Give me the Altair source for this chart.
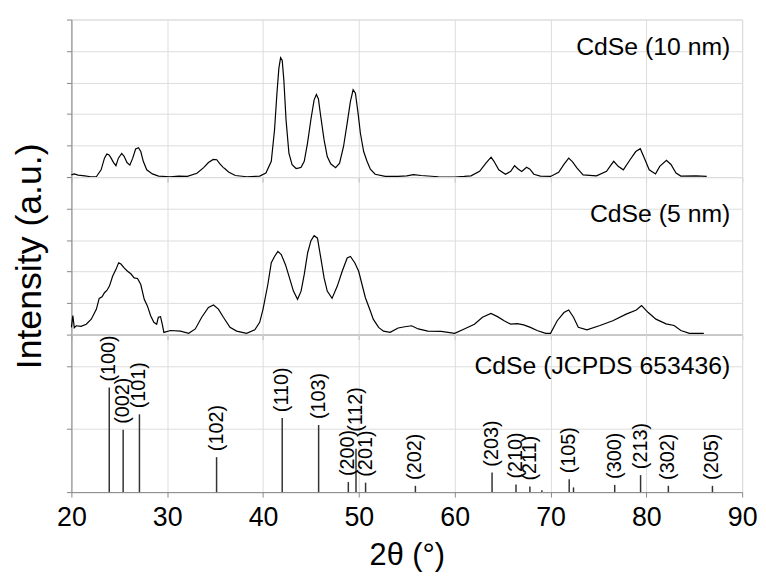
import altair as alt
import pandas as pd

# ---- CdSe (10 nm) pattern (2theta, intensity in panel units) ----
x10 = [20.0, 20.3, 20.7, 21.4, 22.0, 22.6, 23.1, 23.45, 23.7, 23.9, 24.07, 24.4, 24.65, 24.9,
       25.25, 25.5, 25.8, 26.1, 26.4, 26.7, 27.0, 27.24, 27.5, 27.86, 28.45, 29.1, 30.3, 31.2,
       32.1, 33.1, 33.8, 34.3, 34.8, 35.17, 35.5, 35.86, 36.0, 36.4, 37.1, 38.3, 39.65, 40.3,
       40.86, 41.2, 41.45, 41.65, 41.83, 42.0, 42.17, 42.4, 42.7, 43.03, 43.45, 43.78, 43.97,
       44.3, 44.64, 44.99, 45.33, 45.57, 45.78, 46.0, 46.37, 46.7, 47.06, 47.57, 47.99, 48.4,
       48.78, 49.12, 49.4, 49.64, 49.92, 50.16, 50.5, 50.85, 51.2, 51.7, 52.75, 54.1, 55.0,
       55.7, 56.5, 58.3, 60.0, 61.0, 61.7, 62.6, 63.26, 63.8, 64.1, 64.6, 65.3, 65.85, 66.25,
       66.65, 67.0, 67.5, 67.85, 68.26, 68.95, 70.0, 70.85, 71.4, 71.9, 72.3, 72.75, 73.4,
       74.8, 75.85, 76.3, 76.6, 77.06, 77.6, 78.3, 78.9, 79.37, 79.8, 80.3, 80.96, 81.4, 82.1,
       82.57, 83.1, 83.6, 85.2, 86.3]
y10 = [0.07, 0.10, 0.06, 0.04, 0.01, 0.01, 0.23, 0.60, 0.73, 0.71, 0.64, 0.46, 0.36, 0.60,
       0.75, 0.66, 0.46, 0.38, 0.60, 0.89, 0.93, 0.81, 0.50, 0.23, 0.10, 0.03, 0.01, 0.03,
       0.02, 0.12, 0.30, 0.46, 0.56, 0.55, 0.42, 0.30, 0.27, 0.16, 0.05, 0.01, 0.03, 0.13,
       0.50, 1.50, 2.66, 3.45, 3.79, 3.70, 3.08, 1.81, 0.76, 0.39, 0.27, 0.29, 0.31,
       0.50, 1.08, 1.82, 2.45, 2.62, 2.48, 1.97, 1.18, 0.65, 0.42, 0.30, 0.44, 0.97,
       1.71, 2.40, 2.77, 2.66, 2.02, 1.39, 0.81, 0.50, 0.25, 0.09, 0.02, 0.02, 0.04,
       0.08, 0.05, 0.01, 0.00, 0.02, 0.04, 0.18, 0.44, 0.63, 0.50, 0.23, 0.09, 0.18, 0.36,
       0.25, 0.18, 0.31, 0.25, 0.09, 0.03, 0.02, 0.15, 0.40, 0.60, 0.48, 0.29, 0.07,
       0.04, 0.18, 0.38, 0.50, 0.34, 0.23, 0.55, 0.81, 0.90, 0.60, 0.23, 0.10, 0.34, 0.53,
       0.40, 0.13, 0.03, 0.04, 0.02]

# ---- CdSe (5 nm) pattern ----
x5 = [20.0, 20.15, 20.3, 20.5, 21.0, 21.55, 22.07, 22.6, 22.9, 23.2, 23.45, 23.7, 23.97, 24.3,
      24.65, 24.93, 25.17, 25.5, 25.86, 26.2, 26.55, 26.9, 27.24, 27.6, 27.93, 28.27, 28.6,
      28.9, 29.07, 29.3, 29.48, 29.65, 30.34, 31.38, 32.24, 32.93, 33.6, 34.3, 34.83, 35.34,
      35.86, 36.55, 37.24, 38.28, 39.14, 39.65, 40.0, 40.5, 40.86, 41.2, 41.55, 41.9, 42.34,
      42.76, 43.17, 43.6, 43.97, 44.3, 44.65, 45.0, 45.33, 45.68, 46.0, 46.37, 46.7, 47.2,
      47.75, 48.26, 48.78, 49.12, 49.57, 49.98, 50.33, 50.68, 51.2, 51.5, 52.06, 52.57, 53.26,
      54.1, 54.8, 55.5, 56.2, 57.2, 58.6, 60.0, 61.0, 62.06, 62.9, 63.78, 64.47, 65.16, 65.85,
      66.54, 67.2, 67.9, 68.6, 69.5, 70.0, 70.7, 71.4, 71.9, 72.4, 72.9, 73.8, 75.16, 76.5,
      77.9, 78.96, 79.5, 80.2, 81.0, 82.06, 82.9, 83.6, 84.5, 86.0]
y5 = [0.23, 0.60, 0.22, 0.28, 0.26, 0.33, 0.49, 0.80, 1.15, 1.20, 1.33, 1.40, 1.54, 1.85,
      2.07, 2.28, 2.24, 2.12, 2.01, 1.93, 1.80, 1.78, 1.59, 1.12, 0.91, 0.60, 0.39,
      0.33, 0.55, 0.57, 0.33, 0.07, 0.13, 0.11, 0.04, 0.18, 0.55, 0.86, 0.94, 0.81,
      0.55, 0.23, 0.11, 0.04, 0.15, 0.39, 0.81, 1.59, 2.28, 2.48, 2.64, 2.54, 2.22,
      1.80, 1.38, 1.12, 1.38, 1.91, 2.59, 2.98, 3.14, 3.06, 2.48, 1.80, 1.38, 1.15,
      1.54, 2.01, 2.43, 2.48, 2.28, 2.01, 1.59, 1.17, 0.75, 0.49, 0.23, 0.11, 0.07,
      0.21, 0.25, 0.28, 0.18, 0.11, 0.10, 0.04, 0.18, 0.33, 0.55, 0.67, 0.57, 0.44, 0.33,
      0.35, 0.31, 0.23, 0.13, 0.04, 0.04, 0.44, 0.70, 0.78, 0.55, 0.23, 0.15, 0.29, 0.44,
      0.65, 0.78, 0.92, 0.70, 0.49, 0.34, 0.29, 0.13, 0.04, 0.04]

# ---- JCPDS 653436 reference lines ----
ref_pos = [23.95, 25.4, 27.1, 35.15, 42.0, 45.8, 48.9, 49.7, 50.7, 55.9, 63.9, 66.4, 67.85,
           69.1, 71.95, 72.4, 76.7, 79.4, 82.3, 86.9]
ref_int = [3.32, 1.98, 2.47, 1.11, 2.35, 2.13, 0.32, 1.38, 0.30, 0.20, 0.62, 0.24, 0.18,
           0.06, 0.41, 0.15, 0.23, 0.54, 0.20, 0.20]
ref_hkl = ["(100)", "(002)", "(101)", "(102)", "(110)", "(103)", "(200)", "(112)", "(201)",
           "(202)", "(203)", "(210)", "(211)", "", "(105)", "", "(300)", "(213)", "(302)",
           "(205)"]

panel_labels = ["CdSe (10 nm)", "CdSe (5 nm)", "CdSe (JCPDS 653436)"]
x_ticks = [20, 30, 40, 50, 60, 70, 80, 90]
y_ticks = [0, 1, 2, 3, 4, 5]

FONT = "Liberation Sans"
W, H = 677, 159

xscale = alt.Scale(domain=[20, 90], nice=False, zero=False)
yscale = alt.Scale(domain=[0, 5], nice=False, zero=True)


def x_axis(show):
    if show:
        return alt.Axis(values=x_ticks, labelFontSize=27, labelPadding=8, title="2θ (°)",
                        titleFontSize=31, titleFontWeight="normal", titleBaseline="alphabetic",
                        titleY=73, labelFlush=False)
    return alt.Axis(values=x_ticks, labels=False, title=None)


def y_axis(show_title):
    if show_title:
        return alt.Axis(values=y_ticks, labels=False, title="Intensity (a.u.)",
                        titleFontSize=36, titleFontWeight="normal",
                        titleBaseline="alphabetic", titleX=-31)
    return alt.Axis(values=y_ticks, labels=False, title=None)


def label_layer(text, ypix):
    return alt.Chart(pd.DataFrame({"t": [text]})).mark_text(
        align="right", baseline="middle", fontSize=25, font=FONT, color="black"
    ).encode(text="t:N", x=alt.value(W - 12), y=alt.value(ypix))


def pattern_panel(xs, ys, text, ypix, show_ytitle):
    df = pd.DataFrame({"x": xs, "y": ys})
    line = alt.Chart(df).mark_line(color="black", strokeWidth=1.2).encode(
        x=alt.X("x:Q", scale=xscale, axis=x_axis(False)),
        y=alt.Y("y:Q", scale=yscale, axis=y_axis(show_ytitle)),
    )
    return alt.layer(line, label_layer(text, ypix)).properties(width=W, height=H)


top = pattern_panel(x10, y10, panel_labels[0], 28, False)
mid = pattern_panel(x5, y5, panel_labels[1], 37, True)

ref_df = pd.DataFrame({"x": ref_pos, "h": ref_int, "hkl": ref_hkl})
ref_df["zero"] = 0.0
sticks = alt.Chart(ref_df).mark_rule(color="#333333", strokeWidth=1.5).encode(
    x=alt.X("x:Q", scale=xscale, axis=x_axis(True)),
    y=alt.Y("h:Q", scale=yscale, axis=y_axis(False)),
    y2="zero:Q",
)


def hkl_layer(flt, dx):
    return alt.Chart(ref_df).transform_filter(flt).mark_text(
        angle=270, align="left", baseline="middle", dx=dx, fontSize=20, font=FONT,
        color="black"
    ).encode(x=alt.X("x:Q", scale=xscale), y=alt.Y("h:Q", scale=yscale), text="hkl:N")


hkl_main = hkl_layer("datum.hkl != '(112)'", 6)
hkl_112 = hkl_layer("datum.hkl == '(112)'", 17)
bot = alt.layer(sticks, hkl_main, hkl_112, label_layer(panel_labels[2], 32)).properties(
    width=W, height=H)

chart = alt.vconcat(top, mid, bot, spacing=0, bounds="flush").properties(
    padding={"left": 3, "top": 8, "right": 0, "bottom": 0}
).configure_view(
    stroke="black", strokeWidth=1
).configure_axis(
    domainColor="black", domainWidth=2, tickColor="black", tickWidth=1.5, tickSize=9,
    grid=False, labelFont=FONT, titleFont=FONT, labelColor="black", titleColor="black"
).configure(background="white")

chart.save("out.html", embed_options={"renderer": "svg", "actions": False})
